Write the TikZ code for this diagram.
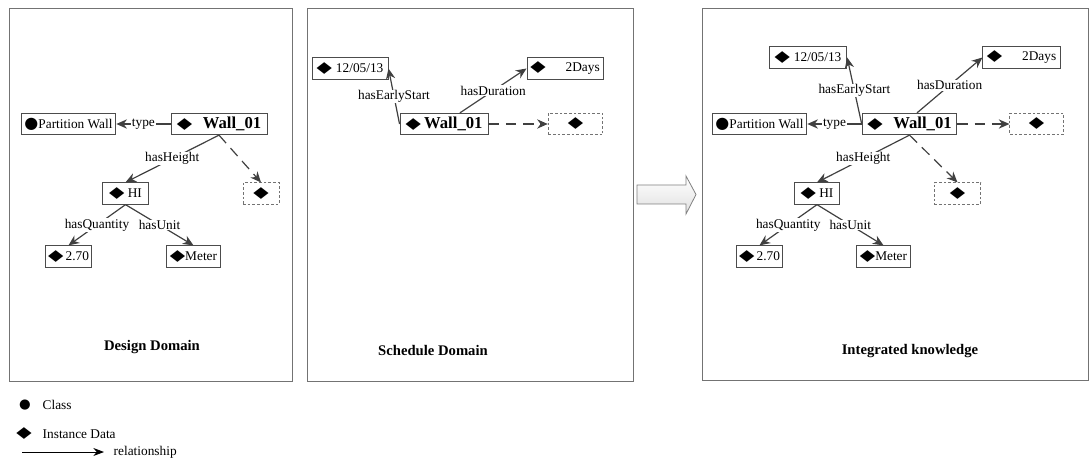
\documentclass[tikz,border=0pt]{standalone}
\usepackage{fontspec}
\usepackage{graphicx}
\setmainfont{Liberation Serif}
\newfontfamily\symfont{DejaVu Sans}
\usetikzlibrary{arrows.meta}
\newcommand{\inst}{{\symfont\fontsize{11.5}{12}\selectfont\scalebox{1.3}[1]{◆}}}
\newcommand{\clas}{{\symfont\fontsize{12}{12}\selectfont ●}}
\newcommand{\wallname}{{\fontsize{12.5}{14}\selectfont\bfseries Wall\_01}}
\begin{document}
\begin{tikzpicture}[x=0.75pt,y=-0.75pt,
  box/.style={draw=black!70, line width=0.7pt, minimum height=16pt, inner sep=1pt, font=\fontsize{10}{12}\selectfont},
  emptybox/.style={draw=black!55, dash pattern=on 2pt off 1.5pt, line width=0.6pt, minimum height=16pt, inner sep=1pt},
  rel/.style={draw=black!75, line width=0.9pt, -{Stealth[length=8pt,width=7pt]}},
  newrel/.style={rel, dash pattern=on 8pt off 5pt},
  lbl/.style={fill=white, inner sep=0.5pt, font=\fontsize{10}{12}\selectfont},
  paneltitle/.style={font=\fontsize{11}{13}\selectfont\bfseries},
  panel/.style={draw=black!55, line width=0.6pt}]
%
\useasboundingbox (0,0) rectangle (1089,474);
%
% panels
\draw[panel] (9,8) rectangle (292,381);
\draw[panel] (307,8) rectangle (633,381);
\draw[panel] (702,8) rectangle (1088,380);
%
% design domain
\node[box, minimum width=71pt] (pw1) at (68.5,124) {\clas Partition Wall};
\node[box, minimum width=72pt] (w1) at (219,124) {\inst\hspace{8pt}\wallname};
\node[box, minimum width=34pt] (hi1) at (125.5,193.5) {\inst\ HI};
\node[emptybox, minimum width=27pt] (e1) at (261,193.5) {\inst};
\node[box, minimum width=34pt] (q1) at (68.5,256.5) {\inst\,2.70};
\node[box, minimum width=40pt] (m1) at (193.5,256.5) {\inst Meter};
%
\draw[rel] (w1) -- (pw1) node[lbl, midway]{type};
\draw[rel] (w1.south) -- (hi1.north) node[lbl, midway]{hasHeight};
\draw[newrel] (w1.south) -- (e1.north);
\draw[rel] (hi1.south) -- (q1.north) node[lbl, midway]{hasQuantity};
\draw[rel] (hi1.south) -- (m1.north) node[lbl, midway]{hasUnit};
\node[paneltitle] (t1) at (152,347) {Design Domain};
%
% schedule domain
\node[box, minimum width=57pt, minimum height=17pt] (s2) at (350,68.5) {\inst\hspace{3pt}12/05/13};
\node[box, minimum width=57pt, minimum height=17pt] (d2) at (565,68.5) {\inst\hspace{15pt}2Days};
\node[box, minimum width=66pt] (w2) at (444,124) {\inst\ \wallname};
\node[emptybox, minimum width=41pt] (e2) at (575.5,124) {\inst\hspace{20pt}};
%
\draw[rel] (w2.west) -- (s2.east) node[lbl, midway]{hasEarlyStart};
\draw[rel] (w2.35) -- (d2.west) node[lbl, midway]{hasDuration};
\draw[newrel] (w2) -- (e2);
\node[paneltitle] (t2) at (433,350) {Schedule Domain};
%
% transfer arrow
\shade[top color=white, bottom color=black!12, draw=black!50, line width=0.6pt]
  (637,185) -- (686,185) -- (686,176) -- (696,194.5) -- (686,214) -- (686,204) -- (637,204) -- cycle;
%
% integrated knowledge
\node[box, minimum width=58pt] (s3) at (808,57.5) {\inst\hspace{3pt}12/05/13};
\node[box, minimum width=58pt] (d3) at (1021.5,57.5) {\inst\hspace{15pt}2Days};
\node[box, minimum width=71pt] (pw3) at (759.5,124) {\clas Partition Wall};
\node[box, minimum width=71pt] (w3) at (909.5,124) {\inst\hspace{8pt}\wallname};
\node[emptybox, minimum width=40pt] (e3) at (1036.5,124) {\inst\hspace{18pt}};
\node[box, minimum width=34pt] (hi3) at (817,193.5) {\inst\ HI};
\node[emptybox, minimum width=35pt] (f3) at (957.5,193.5) {\inst\hspace{6pt}};
\node[box, minimum width=34pt] (q3) at (759.5,256.5) {\inst\,2.70};
\node[box, minimum width=40pt] (m3) at (883.5,256.5) {\inst Meter};
%
\draw[rel] (w3.west) -- (s3.east) node[lbl, midway]{hasEarlyStart};
\draw[rel] (w3.56) -- (d3.west) node[lbl, midway]{hasDuration};
\draw[rel] (w3) -- (pw3) node[lbl, midway]{type};
\draw[newrel] (w3) -- (e3);
\draw[rel] (w3.south) -- (hi3.north) node[lbl, midway]{hasHeight};
\draw[newrel] (w3.south) -- (f3.north);
\draw[rel] (hi3.south) -- (q3.north) node[lbl, midway]{hasQuantity};
\draw[rel] (hi3.south) -- (m3.north) node[lbl, midway]{hasUnit};
\node[paneltitle] (t3) at (910,351) {Integrated knowledge};
%
% legend
\node (lc) at (25,405) {{\symfont\fontsize{10}{12}\selectfont ●}};
\node[font=\fontsize{10}{12}\selectfont, anchor=west] (lct) at (38,405) {Class};
\node (li) at (24,434) {\inst};
\node[font=\fontsize{10}{12}\selectfont, anchor=west] (lit) at (38,434) {Instance Data};
\coordinate (ra) at (22,452);
\coordinate (rb) at (104,452);
\draw[line width=0.6pt, -{Stealth[length=8pt,width=6pt]}] (ra) -- (rb);
\node[font=\fontsize{10}{12}\selectfont, anchor=west] (lrt) at (109,452) {relationship};
%
\end{tikzpicture}
\end{document}
